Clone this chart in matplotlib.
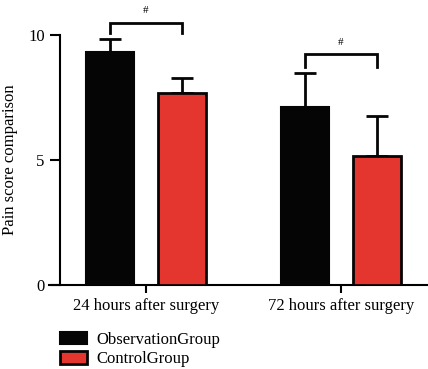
import matplotlib
matplotlib.use("Agg")
import matplotlib.pyplot as plt
import numpy as np
from matplotlib.patches import Patch

plt.rcParams['font.family'] = ['Liberation Serif', 'DejaVu Serif']

categories = ["24 hours after surgery", "72 hours after surgery"]
obs_means = [9.33, 7.13]
obs_err = [0.52, 1.36]
ctrl_means = [7.67, 5.17]
ctrl_err = [0.62, 1.60]
bracket_top = [10.5, 9.23]
bracket_leg = [10.08, 8.73]
yticks = [0, 5, 10]

black = '#050505'
red = '#e4352e'

fig = plt.figure(figsize=(4.28, 3.69), dpi=100)
ax = fig.add_axes([49/428, 84/369, 379/428, 250/369])

x = np.arange(len(categories))
off = 0.185
w = 0.246

ax.bar(x - off, obs_means, w, color=black, edgecolor=black, linewidth=1.5, zorder=3)
ax.bar(x + off, ctrl_means, w, color=red, edgecolor=black, linewidth=2, zorder=3)
ax.errorbar(x - off, obs_means, yerr=[np.zeros(2), obs_err], fmt='none',
            ecolor=black, elinewidth=2, capsize=8, capthick=2, zorder=2)
ax.errorbar(x + off, ctrl_means, yerr=[np.zeros(2), ctrl_err], fmt='none',
            ecolor=black, elinewidth=2, capsize=8, capthick=2, zorder=2)

for i in range(len(categories)):
    xl, xr = x[i] - off, x[i] + off
    ax.plot([xl, xl, xr, xr], [bracket_leg[i], bracket_top[i], bracket_top[i], bracket_leg[i]],
            color=black, lw=2, clip_on=False, solid_joinstyle='miter')
    ax.text(x[i], bracket_top[i] + 0.3, '#', ha='center', va='bottom', fontsize=8,
            clip_on=False)

ax.set_xlim(-0.497, 1.446)
ax.set_ylim(0, 10)
ax.set_yticks(yticks)
ax.set_xticks(x)
ax.set_xticklabels(categories, fontsize=12)
ax.tick_params(axis='y', labelsize=12, length=7, width=1.5, pad=4)
ax.tick_params(axis='x', length=6, width=1.5, pad=3)
ax.set_ylabel("Pain score comparison", fontsize=12, labelpad=7)

for s in ['top', 'right']:
    ax.spines[s].set_visible(False)
ax.spines['left'].set_position(('axes', 11/379))
ax.spines['left'].set_linewidth(1.5)
ax.spines['bottom'].set_linewidth(1.5)

handles = [Patch(facecolor=black, edgecolor=black, linewidth=1.5, label="ObservationGroup"),
           Patch(facecolor=red, edgecolor=black, linewidth=2, label="ControlGroup")]
fig.legend(handles=handles, loc='upper left', bbox_to_anchor=(55/428, 1 - 327/369),
           frameon=False, fontsize=12, handlelength=1.6, handleheight=0.75,
           handletextpad=0.6, labelspacing=0.2, borderaxespad=0, borderpad=0.3)

fig.savefig("out.png", dpi=100)
